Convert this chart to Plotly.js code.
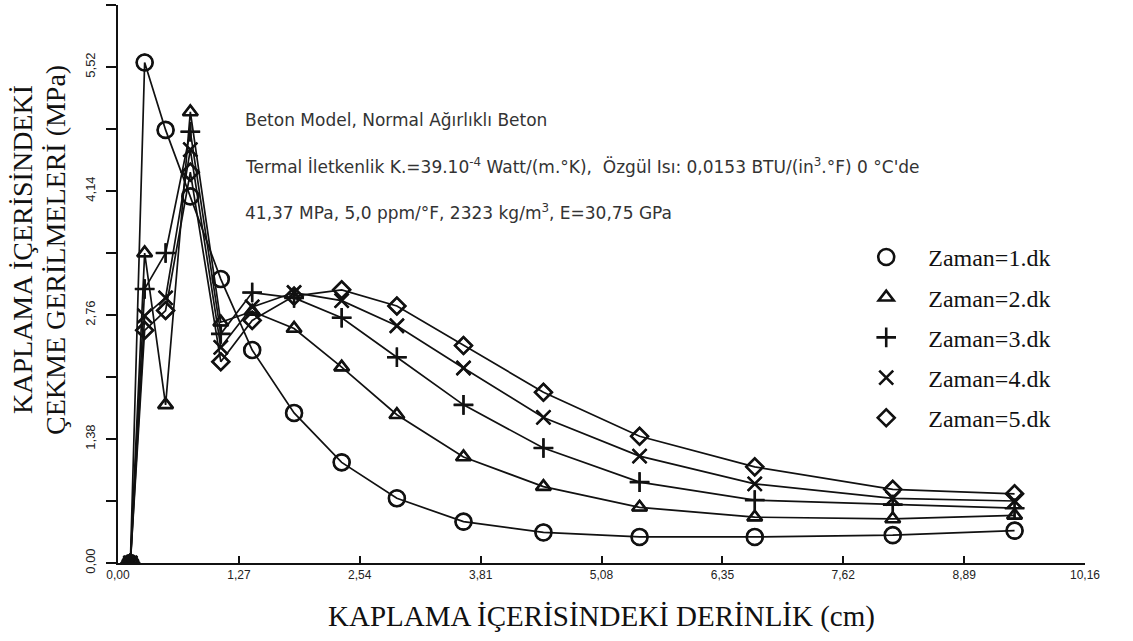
<!DOCTYPE html>
<html><head><meta charset="utf-8">
<script src="https://cdn.plot.ly/plotly-3.0.1.min.js"></script>
<style>html,body{margin:0;padding:0;background:#fff}</style></head>
<body><div id="chart" style="width:1133px;height:641px"></div>
<script>
const depth = [0.13, 0.28, 0.50, 0.76, 1.08, 1.41, 1.85, 2.35, 2.93, 3.63, 4.47, 5.48, 6.69, 8.14, 9.42];
const zaman1 = [0, 5.57, 4.82, 4.08, 3.16, 2.37, 1.67, 1.12, 0.72, 0.46, 0.34, 0.29, 0.29, 0.31, 0.36];
const zaman2 = [0, 3.45, 1.76, 5.02, 2.68, 2.80, 2.61, 2.18, 1.65, 1.18, 0.85, 0.62, 0.51, 0.49, 0.53];
const zaman3 = [0, 3.05, 3.45, 4.80, 2.55, 3.01, 2.95, 2.73, 2.29, 1.76, 1.28, 0.90, 0.70, 0.65, 0.61];
const zaman4 = [0, 2.75, 2.95, 4.60, 2.40, 2.85, 3.01, 2.92, 2.64, 2.17, 1.62, 1.19, 0.88, 0.72, 0.69];
const zaman5 = [0, 2.59, 2.81, 4.35, 2.24, 2.70, 2.97, 3.04, 2.86, 2.42, 1.90, 1.41, 1.07, 0.82, 0.77];
const seriesNames = ['Zaman=1.dk', 'Zaman=2.dk', 'Zaman=3.dk', 'Zaman=4.dk', 'Zaman=5.dk'];
const seriesSymbols = ['circle-open', 'triangle-up-open', 'cross-thin-open', 'x-thin-open', 'diamond-open'];
const xTickVals = [0, 1.27, 2.54, 3.81, 5.08, 6.35, 7.62, 8.89, 10.16];
const xTickText = ['0,00', '1,27', '2,54', '3,81', '5,08', '6,35', '7,62', '8,89', '10,16'];
const yTickVals = [0, 1.38, 2.76, 4.14, 5.52];
const yTickText = ['0,00', '1,38', '2,76', '4,14', '5,52'];
const yTitleLines = ['KAPLAMA İÇERİSİNDEKİ', 'ÇEKME GERİLMELERİ (MPa)'];
const xTitle = 'KAPLAMA İÇERİSİNDEKİ DERİNLİK (cm)';
const infoLines = [
  'Beton Model, Normal Ağırlıklı Beton',
  'Termal İletkenlik K.=39.10<sup>-4</sup> Watt/(m.°K),  Özgül Isı: 0,0153 BTU/(in<sup>3</sup>.°F) 0 °C\'de',
  '41,37 MPa, 5,0 ppm/°F, 2323 kg/m<sup>3</sup>, E=30,75 GPa'
];

const allY = [zaman1, zaman2, zaman3, zaman4, zaman5];
const sizes = [16, 13, 14, 14, 13];
const traces = [];
allY.forEach((ys, i) => {
  traces.push({
    x: depth, y: ys, type: 'scatter', mode: 'lines+markers',
    line: {color: '#111', width: 1.7},
    marker: {symbol: seriesSymbols[i], size: sizes[i], color: '#111', line: {color: '#111', width: 1.8}},
    showlegend: false, hoverinfo: 'x+y'
  });
});
allY.forEach((ys, i) => {
  traces.push({
    x: depth, y: ys, type: 'scatter', mode: 'markers',
    marker: {symbol: seriesSymbols[i], size: sizes[i], color: '#111', line: {color: '#111', width: 2.6}},
    name: seriesNames[i], legendgroup: 'g' + i, showlegend: true, hoverinfo: 'skip'
  });
});

const annotations = infoLines.map((t, i) => ({
  xref: 'paper', yref: 'paper', x: (243 - 118) / 967, y: (563 - (120 + i * 46)) / 558,
  xanchor: 'left', yanchor: 'middle', showarrow: false, text: t,
  font: {family: 'DejaVu Sans, sans-serif', size: 17, color: '#333'}
}));
yTitleLines.forEach((t, i) => {
  annotations.push({
    xref: 'paper', yref: 'paper', x: (22 + i * 33 - 118) / 967, y: (563 - 250) / 558,
    xanchor: 'center', yanchor: 'middle', showarrow: false, textangle: -90, text: t,
    font: {family: 'Liberation Serif, serif', size: 28, color: '#111'}
  });
});

const layout = {
  width: 1133, height: 641,
  margin: {l: 118, r: 48, t: 5, b: 78},
  paper_bgcolor: '#fff', plot_bgcolor: '#fff',
  showlegend: true,
  legend: {x: 0.751, y: 0.588, xanchor: 'left', yanchor: 'top', bgcolor: 'rgba(0,0,0,0)',
           font: {family: 'Liberation Serif, serif', size: 24, color: '#111'},
           tracegroupgap: 6, itemwidth: 74},
  xaxis: {
    range: [0, 10.16], tickvals: xTickVals, ticktext: xTickText,
    showgrid: false, zeroline: false, showline: true, linecolor: '#111', linewidth: 2,
    ticks: 'inside', ticklen: 7, tickwidth: 2, tickcolor: '#111',
    tickfont: {family: 'Liberation Sans Narrow, Liberation Sans, sans-serif', size: 12, color: '#222'},
    title: {text: xTitle, standoff: 24,
            font: {family: 'Liberation Serif, serif', size: 29, color: '#111'}}
  },
  yaxis: {
    range: [0, 6.21], tickvals: yTickVals, ticktext: yTickText, tickangle: -90,
    showgrid: false, zeroline: false, showline: true, linecolor: '#111', linewidth: 2,
    ticks: 'outside', ticklen: 10, tickwidth: 2, tickcolor: '#111',
    minor: {dtick: 0.69, tick0: 0, ticks: 'outside', ticklen: 10, tickwidth: 2, tickcolor: '#111', showgrid: false},
    ticklabelstandoff: 6,
    tickfont: {family: 'Liberation Sans Narrow, Liberation Sans, sans-serif', size: 13, color: '#222'}
  },
  annotations: annotations
};
Plotly.newPlot('chart', traces, layout, {displayModeBar: false, staticPlot: true});
</script>
</body></html>
